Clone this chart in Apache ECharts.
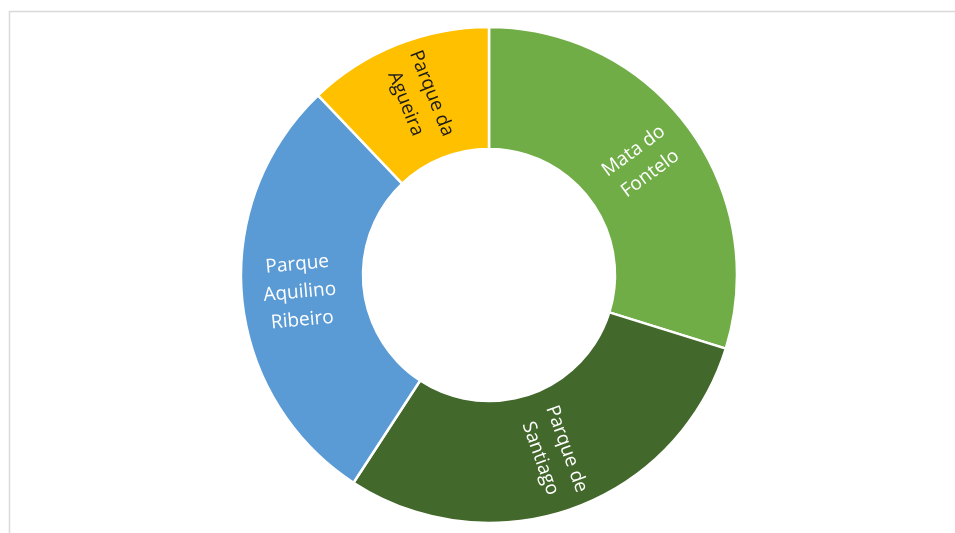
<!DOCTYPE html>
<html>
<head>
<meta charset="utf-8">
<script src="https://cdn.jsdelivr.net/npm/echarts@6/dist/echarts.min.js"></script>
<style>
html,body{margin:0;padding:0;background:#fff;}
#chart{width:955px;height:533px;}
</style>
</head>
<body>
<div id="chart"></div>
<script>
const categories = ['Mata do Fontelo', 'Parque de Santiago', 'Parque Aquilino Ribeiro', 'Parque da Agueira'];
const labelTexts = ['Mata do\nFontelo', 'Parque de\nSantiago', 'Parque\nAquilino\nRibeiro', 'Parque da\nAgueira'];
const values = [29.8, 29.4, 28.7, 12.1];
const colors = ['#70AD47', '#43682B', '#5B9BD5', '#FFC000'];
const labelColors = ['#ffffff', '#ffffff', '#ffffff', '#1a1a1a'];

const chart = echarts.init(document.getElementById('chart'));
chart.setOption({
  animation: false,
  graphic: [{
    type: 'rect',
    shape: { x: 9.5, y: 11.5, width: 1000, height: 600 },
    style: { fill: 'none', stroke: '#d9d9d9', lineWidth: 1.5 },
    silent: true
  }],
  series: [{
    type: 'pie',
    center: [489, 275],
    radius: [126, 248],
    startAngle: 90,
    clockwise: true,
    avoidLabelOverlap: false,
    itemStyle: { borderColor: '#ffffff', borderWidth: 2.5 },
    label: {
      show: true,
      position: 'inside',
      rotate: 'radial',
      fontFamily: 'Open Sans',
      fontSize: 19,
      lineHeight: 28,
      align: 'center'
    },
    labelLine: { show: false },
    emphasis: { disabled: true },
    data: categories.map((c, i) => ({
      name: c,
      value: values[i],
      itemStyle: { color: colors[i] },
      label: { formatter: labelTexts[i], color: labelColors[i] }
    }))
  }]
});
</script>
</body>
</html>
